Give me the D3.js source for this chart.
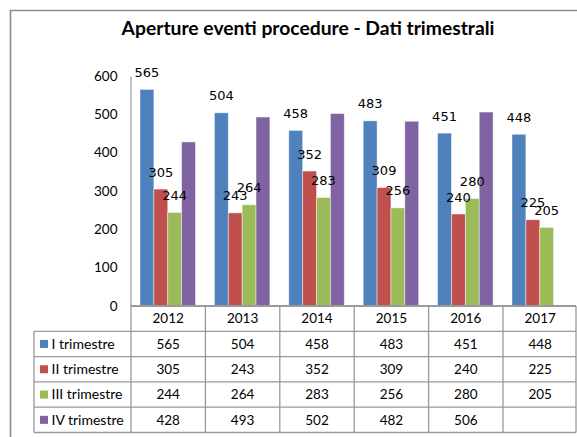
<!DOCTYPE html>
<html>
<head>
<meta charset="utf-8">
<script src="https://cdn.jsdelivr.net/npm/d3@7"></script>
<style>
  body { margin: 0; background: #fff; }
  svg { display: block; }
</style>
</head>
<body>
<svg width="577" height="437"></svg>
<script>
// chart data
const years = ["2012", "2013", "2014", "2015", "2016", "2017"];
const seriesNames = ["I trimestre", "II trimestre", "III trimestre", "IV trimestre"];
const q1 = [565, 504, 458, 483, 451, 448];
const q2 = [305, 243, 352, 309, 240, 225];
const q3 = [244, 264, 283, 256, 280, 205];
const q4 = [428, 493, 502, 482, 506, null];
const yTicks = [0, 100, 200, 300, 400, 500, 600];
const seriesValues = [q1, q2, q3, q4];
const labelled = [true, true, true, false];

const colors = ["#4f81bd", "#c0504d", "#9bbb59", "#8064a2"];
const lineColor = "#9a9a9a";
const uiFont = "Lato, 'Open Sans', sans-serif";

const svg = d3.select("svg");

// outer frame (cut off at right/bottom like the reference)
svg.append("path")
  .attr("d", "M10.5,437 L10.5,10.5 L577,10.5")
  .attr("fill", "none")
  .attr("stroke", "#8c8c8c")
  .attr("stroke-width", 1.6);

// title
svg.append("text")
  .attr("x", 308)
  .attr("y", 35)
  .attr("text-anchor", "middle")
  .attr("font-family", uiFont)
  .attr("font-weight", 700)
  .attr("font-size", 19.3)
  .attr("fill", "#000")
  .text("Aperture eventi procedure - Dati trimestrali");

//scales
const x = d3.scaleBand().domain(years).range([131, 577.4]).padding(0);
const x1 = d3.scaleBand().domain(seriesNames).range([9, 64.5]).padding(0);
const y = d3.scaleLinear().domain([0, 600]).range([306, 76]);
const rowScale = d3.scaleBand().domain(["year"].concat(seriesNames)).range([306, 432.5]);

// y axis
const yAxis = svg.append("g")
  .attr("transform", "translate(130.5,0)")
  .call(d3.axisLeft(y).tickValues(yTicks).tickSize(0).tickPadding(13));
yAxis.select(".domain").attr("stroke", lineColor).attr("stroke-width", 1.2);
yAxis.selectAll("text")
  .attr("font-family", uiFont)
  .attr("font-size", 13.5)
  .attr("fill", "#000");

// bars first, labels in a layer on top
const bars = svg.append("g");
const labels = svg.append("g");
seriesNames.forEach((name, si) => {
  const rows = years.map((yr, i) => ({ year: yr, value: seriesValues[si][i] }))
    .filter((d) => d.value != null);
  bars.append("g").selectAll("rect")
    .data(rows)
    .enter()
    .append("rect")
    .attr("x", (d) => x(d.year) + x1(name))
    .attr("width", x1.bandwidth())
    .attr("y", (d) => y(d.value))
    .attr("height", (d) => y(0) - y(d.value))
    .attr("fill", colors[si])
    .attr("stroke", "rgba(255,255,255,0.55)")
    .attr("stroke-width", 0.8);

  if (labelled[si]) {
    labels.append("g").selectAll("text")
      .data(rows)
      .enter()
      .append("text")
      .attr("x", (d) => x(d.year) + x1(name) + x1.bandwidth() / 2)
      .attr("y", (d) => y(d.value) - 12.5)
      .attr("text-anchor", "middle")
      .attr("font-family", "'DejaVu Sans', sans-serif")
      .attr("font-size", 13)
      .attr("fill", "#000")
      .text((d) => d.value);
  }
});

// data table under the plot
const table = svg.append("g");
const left = 34;
const colLeft = 131;
const right = 576;
const bottom = rowScale.range()[1];

// horizontal lines
rowScale.domain().forEach((r, i) => {
  const yy = rowScale(r);
  table.append("line")
    .attr("x1", i === 0 ? colLeft : left)
    .attr("x2", right)
    .attr("y1", yy)
    .attr("y2", yy)
    .attr("stroke", lineColor)
    .attr("stroke-width", i === 0 ? 2 : 1.3);
});
table.append("line")
  .attr("x1", left).attr("x2", right)
  .attr("y1", bottom).attr("y2", bottom)
  .attr("stroke", lineColor).attr("stroke-width", 1.3);

// vertical lines
table.append("line")
  .attr("x1", left).attr("x2", left)
  .attr("y1", rowScale(seriesNames[0])).attr("y2", bottom)
  .attr("stroke", lineColor).attr("stroke-width", 1.3);
years.forEach((yr) => {
  table.append("line")
    .attr("x1", x(yr)).attr("x2", x(yr))
    .attr("y1", 306).attr("y2", bottom)
    .attr("stroke", lineColor).attr("stroke-width", 1.3);
});
table.append("line")
  .attr("x1", right).attr("x2", right)
  .attr("y1", 306).attr("y2", bottom)
  .attr("stroke", lineColor).attr("stroke-width", 1.3);

// year header
table.selectAll(".year")
  .data(years)
  .enter()
  .append("text")
  .attr("class", "year")
  .attr("x", (d) => x(d) + x.bandwidth() / 2)
  .attr("y", rowScale("year") + rowScale.bandwidth() / 2 + 4.8)
  .attr("text-anchor", "middle")
  .attr("font-family", uiFont)
  .attr("font-size", 13.5)
  .text((d) => d);

// series rows
seriesNames.forEach((name, si) => {
  const cy = rowScale(name) + rowScale.bandwidth() / 2;
  table.append("rect")
    .attr("x", 40)
    .attr("y", cy - 4)
    .attr("width", 8)
    .attr("height", 8)
    .attr("fill", colors[si]);
  table.append("text")
    .attr("x", 51.5)
    .attr("y", cy + 4.8)
    .attr("font-family", uiFont)
    .attr("font-size", 14)
    .text(name);
  table.selectAll(".v" + si)
    .data(years.map((yr, i) => ({ year: yr, value: seriesValues[si][i] })).filter((d) => d.value != null))
    .enter()
    .append("text")
    .attr("class", "v" + si)
    .attr("x", (d) => x(d.year) + x.bandwidth() / 2)
    .attr("y", cy + 4.8)
    .attr("text-anchor", "middle")
    .attr("font-family", uiFont)
    .attr("font-size", 13.5)
    .text((d) => d.value);
});
</script>
</body>
</html>
